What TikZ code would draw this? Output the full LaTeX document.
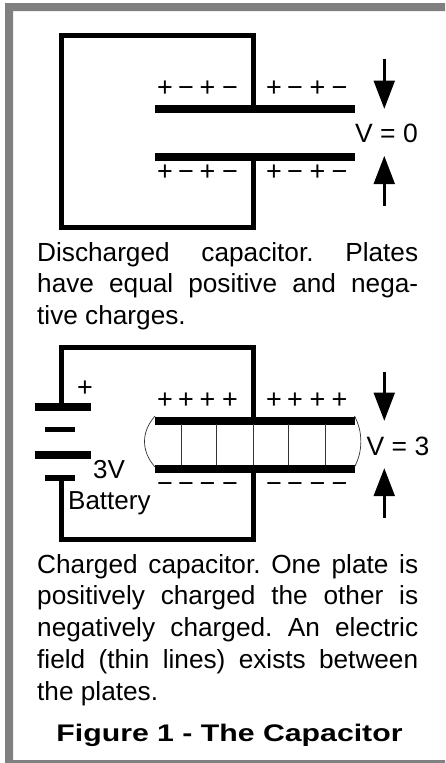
\documentclass[tikz,border=0pt]{standalone}
\usepackage{fontspec}
\setmainfont{Liberation Sans}
\usetikzlibrary{arrows.meta}
\frenchspacing
\tikzset{
  wire/.style={line width=5pt,line cap=butt,line join=miter},
  plate/.style={line width=8pt},
  shortplate/.style={line width=5.5pt},
  field/.style={line width=0.7pt,black!80},
  volt/.style={line width=2.8pt},
  chg/.style={inner sep=0pt,anchor=base,font=\fontsize{27}{27}\selectfont},
  lbl/.style={inner sep=0pt,anchor=base west,font=\fontsize{26}{27}\selectfont},
  vlbl/.style={inner sep=0pt,anchor=base west,font=\fontsize{26.5}{27}\selectfont},
  para/.style={inner sep=0pt,anchor=base west,text width=381pt,align=justify,font=\fontsize{26.2}{31.9}\selectfont},
}
\begin{document}
\begin{tikzpicture}[x=1pt,y=-1pt]
\useasboundingbox (0,0) rectangle (445,763);
\fill[white] (0,0) rectangle (445,763);
% frame
\fill[black!50] (5,763) -- (5,3) -- (445,3) -- (445,11) -- (13,11) -- (13,760) -- (445,760) -- (445,763) -- cycle;

% --- first circuit
\coordinate (a1) at (253.5,108.7);
\coordinate (a2) at (253.5,156.7);
\draw[wire] (a1) |- (61,35) |- (253.5,227) -- (a2);
\draw[plate] (155,108.7) -- (354.5,108.7);
\draw[plate] (155,156.7) -- (354.5,156.7);
\foreach \y in {96,180.5}{
  \foreach \x/\s in {165/+,186/−,207.5/+,230/−,274/+,295/−,317.5/+,339.5/−}
    \node[chg] at (\x,\y) {\s};
}
\draw[volt] (384.3,59) -- (384.3,85);
\fill (373.5,80.7) -- (395,80.7) -- (384.3,108.7) -- cycle;
\draw[volt] (384.3,180) -- (384.3,205.7);
\fill (373.5,184) -- (395,184) -- (384.3,156) -- cycle;
\node[vlbl] (v0) at (355,142.8) {V = 0};

\node[para] (p1) at (37,261) {Discharged capacitor. Plates\linebreak have equal positive and nega-\linebreak tive charges.};

% --- second circuit
\coordinate (b1) at (253.5,420.7);
\coordinate (b2) at (253.5,468.7);
\coordinate (bt1) at (61,407);
\coordinate (bt2) at (61,478);
\draw[wire] (bt1) |- (b1 |- 0,347.3) -- (b1);
\draw[wire] (bt2) |- (b2 |- 0,539.3) -- (b2);
\draw[plate] (34.7,407) -- (90.7,407);
\draw[shortplate] (45,429.5) -- (74.7,429.5);
\draw[plate] (34.7,455) -- (90.7,455);
\draw[shortplate] (45,478) -- (74.7,478);
\draw[plate] (155,420.7) -- (354.5,420.7);
\draw[plate] (155,468.7) -- (354.5,468.7);
\foreach \x in {181.3,216,253.3,288,325.3}
  \draw[field] (\x,424) -- (\x,465);
\draw[field] (155,416) .. controls (141,432) and (141,451) .. (155,467);
\draw[field] (354.5,416) .. controls (363,432) and (363,451) .. (354.5,467);
\foreach \x in {165,186,207.5,230,274,295,317.5,339.5}{
  \node[chg] at (\x,408) {+};
  \node[chg] at (\x,492.5) {−};
}
\node[chg] at (85,396.7) {+};
\node[lbl] (v3v) at (93,478) {3V};
\node[lbl] (vbat) at (68,509) {Battery};
\draw[volt] (384.3,371.7) -- (384.3,398);
\fill (373.5,392.7) -- (395,392.7) -- (384.3,420.7) -- cycle;
\draw[volt] (384.3,492) -- (384.3,517.7);
\fill (373.5,496) -- (395,496) -- (384.3,468.3) -- cycle;
\node[vlbl] (v3) at (366.5,455) {V = 3};

\node[para] (p2) at (37,573) {Charged capacitor. One plate is\linebreak positively charged the other is\linebreak negatively charged. An electric\linebreak field (thin lines) exists between\linebreak the plates.};

\node[inner sep=0pt,anchor=base] (title) at (229.5,741.7) {\fontsize{24}{26}\selectfont\bfseries\addfontfeature{FakeStretch=1.26}Figure 1 - The Capacitor};
\end{tikzpicture}
\end{document}
